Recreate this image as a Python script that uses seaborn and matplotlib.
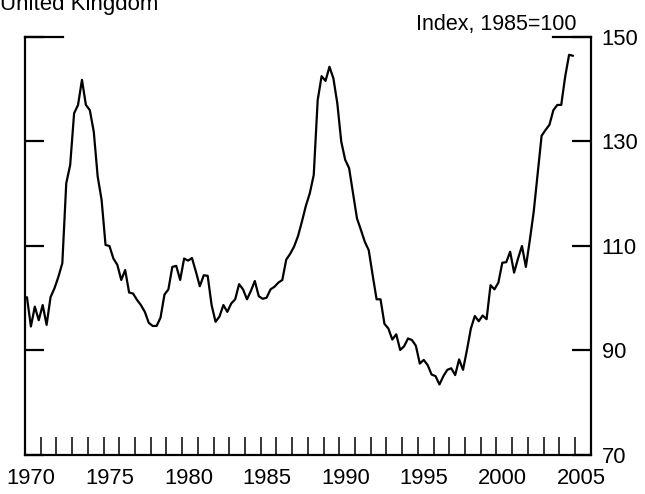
import numpy as np
import pandas as pd
import matplotlib
matplotlib.use("Agg")
import matplotlib.pyplot as plt
from matplotlib.lines import Line2D
from matplotlib.ticker import FixedLocator, NullFormatter
import seaborn as sns

# Quarterly house price index (1985=100), United Kingdom
idx_1970s = [100.2, 94.6, 98.4, 95.8, 98.7, 94.9, 100.2, 101.9,
             104.1, 106.7, 122.0, 125.5, 135.4, 137.0, 141.8, 137.0,
             136.0, 131.9, 123.3, 118.8, 110.2, 110.0, 107.6, 106.4,
             103.5, 105.4, 101.1, 100.9, 99.7, 98.7, 97.4, 95.3,
             94.7, 94.7, 96.3, 100.7, 101.7, 106.0, 106.2, 103.5]
idx_1980s = [107.6, 107.2, 107.7, 105.1, 102.3, 104.4, 104.3, 98.7,
             95.5, 96.5, 98.7, 97.4, 99.0, 99.8, 102.7, 101.7,
             99.8, 101.4, 103.3, 100.4, 99.9, 100.1, 101.7, 102.2,
             103.0, 103.5, 107.4, 108.5, 109.9, 111.9, 114.7, 117.7,
             120.1, 123.6, 137.9, 142.5, 141.6, 144.3, 142.1, 137.3]
idx_1990s = [130.0, 126.5, 124.9, 120.1, 115.3, 113.1, 110.8, 109.2,
             104.4, 99.8, 99.8, 95.1, 94.2, 92.1, 93.1, 90.1,
             90.8, 92.3, 92.0, 90.9, 87.5, 88.2, 87.2, 85.4,
             85.1, 83.5, 85.1, 86.3, 86.6, 85.3, 88.3, 86.3,
             90.1, 94.2, 96.6, 95.6, 96.7, 96.0, 102.5, 101.7]
idx_2000s = [103.0, 106.8, 106.9, 108.9, 104.9, 107.6, 110.0, 106.0,
             111.1, 116.6, 123.9, 131.1, 132.2, 133.2, 136.0, 137.0,
             137.0, 142.4, 146.6, 146.4]

year_labels = [1970, 1975, 1980, 1985, 1990, 1995, 2000, 2005]
y_ticks = [70, 90, 110, 130, 150]

values = idx_1970s + idx_1980s + idx_1990s + idx_2000s
quarters = pd.period_range("1970Q1", periods=len(values), freq="Q")
xpos = quarters.year + (quarters.quarter - 0.5) / 4.0
df = pd.DataFrame({"x": xpos, "index": values})

sns.set_theme(style="white")
plt.rcParams["font.family"] = ["Liberation Sans", "DejaVu Sans"]

fig = plt.figure(figsize=(6.45, 4.94), dpi=100)
ax = fig.add_axes([25 / 645, 39 / 494, 565.7 / 645, 418 / 494])

sns.lineplot(data=df, x="x", y="index", ax=ax, color="black", linewidth=1.6)

ax.set_xlim(1970, 2006)
ax.set_ylim(70, 150)

# x axis: labels near year starts, minor inward ticks each year
ax.xaxis.set_major_locator(FixedLocator([y + 0.4 for y in year_labels]))
ax.set_xticklabels([str(y) for y in year_labels])
ax.xaxis.set_minor_locator(FixedLocator(list(range(1971, 2006))))
ax.xaxis.set_minor_formatter(NullFormatter())
ax.tick_params(axis="x", which="major", length=0, pad=9, labelsize=15.8,
               colors="black")
ax.tick_params(axis="x", which="minor", direction="in", length=13,
               width=1.1, color="black", bottom=True)

# y axis: labels on right, inward ticks on both sides
ax.set_yticks(y_ticks)
ax.yaxis.set_ticks_position("both")
ax.tick_params(axis="y", direction="in", length=13.5, width=1.6,
               color="black", left=True, right=True,
               labelleft=False, labelright=True, pad=8, labelsize=15.8,
               labelcolor="black")

ax.set_xlabel("")
ax.set_ylabel("")

for side in ["left", "right", "bottom"]:
    ax.spines[side].set_visible(True)
    ax.spines[side].set_color("black")
    ax.spines[side].set_linewidth(1.6)
ax.spines["top"].set_visible(False)

# broken top frame
for x0, x1 in [(0.0, 0.067), (0.933, 1.0)]:
    ax.add_line(Line2D([x0, x1], [1, 1], transform=ax.transAxes,
                       color="black", linewidth=1.6, clip_on=False,
                       solid_capstyle="projecting"))

ax.grid(False)

fig.text(0.0, 1 - 10 / 494, "United Kingdom", fontsize=16, ha="left",
         va="baseline", color="black")
fig.text(576 / 645, 1 - 30 / 494, "Index, 1985=100", fontsize=15.5,
         ha="right", va="baseline", color="black")

fig.savefig("out.png", dpi=100, facecolor="white")
